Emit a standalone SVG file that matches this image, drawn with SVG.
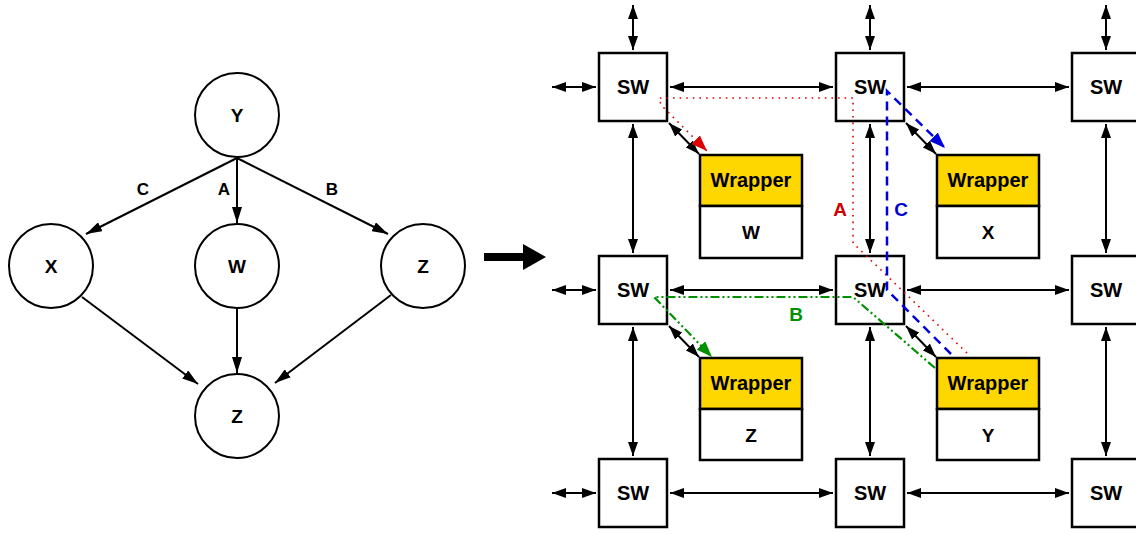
<svg xmlns="http://www.w3.org/2000/svg" width="1136" height="534" viewBox="0 0 1136 534">
<defs>
<style>
.t{font-family:"Liberation Sans",Arial,sans-serif;font-weight:bold;fill:#000;text-anchor:middle}
.sw{fill:#fff;stroke:#000;stroke-width:2.5}
.circ{fill:#fff;stroke:#000;stroke-width:2}
.ln{stroke:#000;stroke-width:2;fill:none}
.dbl{stroke:#000;stroke-width:2;fill:none;marker-start:url(#ah);marker-end:url(#ah)}
.one{stroke:#000;stroke-width:2;fill:none;marker-end:url(#ah2)}
.wy{fill:#ffd700;stroke:#000;stroke-width:2.5}
.ww{fill:#fff;stroke:#000;stroke-width:2.5}
</style>
<marker id="ah" markerUnits="userSpaceOnUse" markerWidth="14" markerHeight="10" refX="14" refY="5" orient="auto-start-reverse"><path d="M0,0 L14,5 L0,10 z" fill="#000"/></marker>
<marker id="ah2" markerUnits="userSpaceOnUse" markerWidth="16" markerHeight="10" refX="16" refY="5" orient="auto"><path d="M0,0 L16,5 L0,10 z" fill="#000"/></marker>
<marker id="ar" markerUnits="userSpaceOnUse" markerWidth="16" markerHeight="12" refX="16" refY="6" orient="auto"><path d="M0,0 L16,6 L0,12 z" fill="#dd0000"/></marker>
<marker id="ab" markerUnits="userSpaceOnUse" markerWidth="16" markerHeight="12" refX="16" refY="6" orient="auto"><path d="M0,0 L16,6 L0,12 z" fill="#0000dd"/></marker>
<marker id="ag" markerUnits="userSpaceOnUse" markerWidth="16" markerHeight="12" refX="16" refY="6" orient="auto"><path d="M0,0 L16,6 L0,12 z" fill="#009000"/></marker>
</defs>

<!-- left graph nodes -->
<g id="gY"><circle class="circ" cx="237" cy="115" r="42"/><text class="t" x="237" y="122" font-size="19">Y</text></g>
<g id="gX"><circle class="circ" cx="51" cy="266" r="42"/><text class="t" x="51" y="273" font-size="19">X</text></g>
<g id="gW"><circle class="circ" cx="237" cy="266" r="42"/><text class="t" x="237" y="273" font-size="19">W</text></g>
<g id="gZr"><circle class="circ" cx="423" cy="266" r="42"/><text class="t" x="423" y="273" font-size="19">Z</text></g>
<g id="gZb"><circle class="circ" cx="237" cy="416" r="42"/><text class="t" x="237" y="423" font-size="19">Z</text></g>

<!-- right: switches -->
<g id="sw11"><rect class="sw" x="599" y="53" width="68" height="68"/><text class="t" x="633" y="94" font-size="20">SW</text></g>
<g id="sw12"><rect class="sw" x="836" y="53" width="68" height="68"/><text class="t" x="870" y="94" font-size="20">SW</text></g>
<g id="sw13"><rect class="sw" x="1072" y="53" width="68" height="68"/><text class="t" x="1106" y="94" font-size="20">SW</text></g>
<g id="sw21"><rect class="sw" x="599" y="256" width="68" height="68"/><text class="t" x="633" y="297" font-size="20">SW</text></g>
<g id="sw22"><rect class="sw" x="836" y="256" width="68" height="68"/><text class="t" x="870" y="297" font-size="20">SW</text></g>
<g id="sw23"><rect class="sw" x="1072" y="256" width="68" height="68"/><text class="t" x="1106" y="297" font-size="20">SW</text></g>
<g id="sw31"><rect class="sw" x="599" y="459" width="68" height="68"/><text class="t" x="633" y="500" font-size="20">SW</text></g>
<g id="sw32"><rect class="sw" x="836" y="459" width="68" height="68"/><text class="t" x="870" y="500" font-size="20">SW</text></g>
<g id="sw33"><rect class="sw" x="1072" y="459" width="68" height="68"/><text class="t" x="1106" y="500" font-size="20">SW</text></g>

<!-- wrappers -->
<g id="wrapW"><rect class="wy" x="700" y="155" width="102" height="51"/><rect class="ww" x="700" y="206" width="102" height="52"/><text class="t" x="751" y="187" font-size="20">Wrapper</text><text class="t" x="751" y="239" font-size="19">W</text></g>
<g id="wrapX"><rect class="wy" x="937" y="155" width="102" height="51"/><rect class="ww" x="937" y="206" width="102" height="52"/><text class="t" x="988" y="187" font-size="20">Wrapper</text><text class="t" x="988" y="239" font-size="19">X</text></g>
<g id="wrapZ"><rect class="wy" x="700" y="358" width="102" height="51"/><rect class="ww" x="700" y="409" width="102" height="51"/><text class="t" x="751" y="390" font-size="20">Wrapper</text><text class="t" x="751" y="442" font-size="19">Z</text></g>
<g id="wrapY"><rect class="wy" x="937" y="358" width="102" height="51"/><rect class="ww" x="937" y="409" width="102" height="51"/><text class="t" x="988" y="390" font-size="20">Wrapper</text><text class="t" x="988" y="442" font-size="19">Y</text></g>

<g id="connectors">
<!-- left graph edges -->
<line class="one" x1="237" y1="158" x2="86" y2="234"/>
<line class="one" x1="237" y1="158" x2="237" y2="223"/>
<line class="one" x1="237" y1="158" x2="388" y2="234"/>
<line class="one" x1="82" y1="297" x2="198" y2="384"/>
<line class="one" x1="237" y1="308" x2="237" y2="373"/>
<line class="one" x1="391" y1="295" x2="275" y2="383"/>

<!-- big arrow -->
<polygon points="484,253 523,253 523,244 546,257 523,270 523,261 484,261" fill="#000"/>

<!-- mesh: top stubs -->
<line class="dbl" x1="633" y1="5" x2="633" y2="50"/>
<line class="dbl" x1="870" y1="5" x2="870" y2="50"/>
<line class="dbl" x1="1106" y1="5" x2="1106" y2="50"/>
<!-- left stubs -->
<line class="dbl" x1="552" y1="87" x2="596" y2="87"/>
<line class="dbl" x1="552" y1="290" x2="596" y2="290"/>
<line class="dbl" x1="552" y1="493" x2="596" y2="493"/>
<!-- horizontal links -->
<line class="dbl" x1="670" y1="87" x2="833" y2="87"/>
<line class="dbl" x1="907" y1="87" x2="1069" y2="87"/>
<line class="dbl" x1="670" y1="290" x2="833" y2="290"/>
<line class="dbl" x1="907" y1="290" x2="1069" y2="290"/>
<line class="dbl" x1="670" y1="493" x2="833" y2="493"/>
<line class="dbl" x1="907" y1="493" x2="1069" y2="493"/>
<!-- vertical links -->
<line class="dbl" x1="633" y1="124" x2="633" y2="253"/>
<line class="dbl" x1="870" y1="124" x2="870" y2="253"/>
<line class="dbl" x1="1106" y1="124" x2="1106" y2="253"/>
<line class="dbl" x1="633" y1="327" x2="633" y2="456"/>
<line class="dbl" x1="870" y1="327" x2="870" y2="456"/>
<line class="dbl" x1="1106" y1="327" x2="1106" y2="456"/>
<!-- switch to wrapper -->
<line class="dbl" x1="669" y1="123" x2="699" y2="154"/>
<line class="dbl" x1="906" y1="123" x2="936" y2="154"/>
<line class="dbl" x1="669" y1="326" x2="699" y2="357"/>
<line class="dbl" x1="906" y1="326" x2="936" y2="357"/>

<!-- path A (red dotted) -->
<polyline points="967,353 853,243 853,98 659,98 661,105 707,151" fill="none" stroke="#dd0000" stroke-width="1.6" stroke-dasharray="1.6,5" marker-end="url(#ar)"/>
<!-- path C (blue dashed) -->
<polyline points="951,354 887,290 887,91 945,148" fill="none" stroke="#0000dd" stroke-width="2.5" stroke-dasharray="9,6" marker-end="url(#ab)"/>
<!-- path B (green dash-dot-dot) -->
<polyline points="935,368 853,297 654,297 712,357" fill="none" stroke="#009000" stroke-width="2.2" stroke-dasharray="9,3,2,3,2,3" marker-end="url(#ag)"/>
</g>

<!-- labels -->
<text class="t" x="143" y="195" font-size="17">C</text>
<text class="t" x="224" y="195" font-size="17">A</text>
<text class="t" x="332" y="195" font-size="17">B</text>
<text class="t" x="840" y="216" font-size="19" style="fill:#cc0000">A</text>
<text class="t" x="901" y="216" font-size="19" style="fill:#0000cc">C</text>
<text class="t" x="796" y="321" font-size="19" style="fill:#009000">B</text>
</svg>
